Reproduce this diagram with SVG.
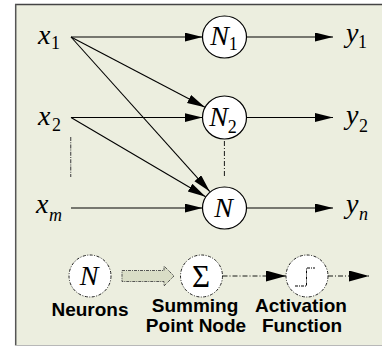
<svg xmlns="http://www.w3.org/2000/svg" width="382" height="347" viewBox="0 0 382 347">
<style>
.var{font-family:"Liberation Serif","Times New Roman",serif;font-style:italic;font-size:28px;fill:#000}
.sub{font-size:18px}
.dig{font-size:18px;font-style:normal}
.node{fill:#fff;stroke:#000;stroke-width:1.2}
.dnode{fill:#fff;stroke:#222;stroke-width:1;stroke-dasharray:3,1.5,1,1.5}
.edge{stroke:#000;stroke-width:1.1;fill:none}
.lbl{font-family:"Liberation Sans",Arial,sans-serif;font-weight:bold;font-size:19px;fill:#000;text-anchor:middle}
</style>
<defs>
<marker id="ah" markerUnits="userSpaceOnUse" markerWidth="20" markerHeight="12" refX="18" refY="4.5" orient="auto">
<path d="M0,0 L18,4.5 L0,9 z" fill="#000"/>
</marker>
<marker id="ah2" markerUnits="userSpaceOnUse" markerWidth="22" markerHeight="12" refX="20" refY="5.5" orient="auto">
<path d="M0,0 L20,5.5 L0,11 z" fill="#000"/>
</marker>
</defs>
<rect x="0" y="0" width="382" height="347" fill="#fff"/>
<rect x="15.5" y="4.5" width="370" height="341" fill="#ECEEDF"/>
<line x1="15" y1="4.5" x2="382" y2="4.5" stroke="#444" stroke-width="1.5"/>
<line x1="15.7" y1="4" x2="15.7" y2="346" stroke="#555" stroke-width="1.5"/>
<line x1="15" y1="345.5" x2="382" y2="345.5" stroke="#b8b8b8" stroke-width="1"/>

<g id="connectors">
<line class="edge" x1="71" y1="37" x2="202.5" y2="37" marker-end="url(#ah)"/>
<line class="edge" x1="71" y1="37" x2="205" y2="107.3" marker-end="url(#ah)"/>
<line class="edge" x1="71" y1="37" x2="209.8" y2="191.6" marker-end="url(#ah)"/>
<line class="edge" x1="71" y1="117.5" x2="202.5" y2="117.5" marker-end="url(#ah)"/>
<line class="edge" x1="71" y1="117.5" x2="205.6" y2="196.8" marker-end="url(#ah)"/>
<line class="edge" x1="71" y1="208" x2="202.5" y2="208" marker-end="url(#ah)"/>
<line class="edge" x1="246.5" y1="37" x2="333" y2="37" marker-end="url(#ah)"/>
<line class="edge" x1="246.5" y1="117.5" x2="333" y2="117.5" marker-end="url(#ah)"/>
<line class="edge" x1="246.5" y1="208" x2="333" y2="208" marker-end="url(#ah)"/>
<line x1="70.7" y1="137" x2="70.7" y2="177" stroke="#555" stroke-width="1.2" stroke-dasharray="4,1.2,1,1.2"/>
<line x1="224.4" y1="141" x2="224.4" y2="177" stroke="#000" stroke-width="0.9" stroke-dasharray="5,2,1,2"/>
<path d="M122,270.5 L164,270.5 L164,266 L174,276 L164,286 L164,281.5 L122,281.5 z" fill="#D9DDC6" stroke="#444" stroke-width="0.9" stroke-dasharray="3,1,1,1"/>
<line x1="222.5" y1="276" x2="286" y2="276" stroke="#000" stroke-width="0.9" stroke-dasharray="5,2,1,2" marker-end="url(#ah2)"/>
<line x1="328" y1="276" x2="369" y2="276" stroke="#000" stroke-width="0.9" stroke-dasharray="5,2,1,2" marker-end="url(#ah2)"/>
</g>

<g id="x1"><text class="var" x="38" y="43.5">x<tspan class="dig" x="51" y="49">1</tspan></text></g>
<g id="x2"><text class="var" x="38" y="125">x<tspan class="dig" x="52" y="131">2</tspan></text></g>
<g id="xm"><text class="var" x="36" y="213">x<tspan class="sub" x="49" y="221">m</tspan></text></g>

<g id="N1"><ellipse class="node" cx="224.5" cy="37" rx="22" ry="21"/><text class="var" x="224" y="45" text-anchor="middle" font-size="27">N<tspan class="dig" dy="5">1</tspan></text></g>
<g id="N2"><ellipse class="node" cx="224.5" cy="117.5" rx="22" ry="21.5"/><text class="var" x="223" y="125.5" text-anchor="middle" font-size="27">N<tspan class="dig" dy="7">2</tspan></text></g>
<g id="N"><ellipse class="node" cx="224.5" cy="208" rx="22" ry="21"/><text class="var" x="223.5" y="217" text-anchor="middle" font-size="27">N</text></g>

<g id="y1"><text class="var" x="346" y="42">y<tspan class="dig" x="358" y="48">1</tspan></text></g>
<g id="y2"><text class="var" x="346" y="124">y<tspan class="dig" x="359" y="132">2</tspan></text></g>
<g id="yn"><text class="var" x="346" y="213">y<tspan class="sub" x="359" y="220">n</tspan></text></g>

<g id="neurons"><circle class="dnode" cx="90" cy="276" r="21"/><text class="var" x="89" y="285" text-anchor="middle" font-size="27">N</text><text class="lbl" x="90" y="316">Neurons</text></g>
<g id="summing"><circle class="dnode" cx="201.5" cy="276" r="21"/><text x="201" y="286.5" text-anchor="middle" font-family="Liberation Serif,serif" font-size="31">Σ</text><text class="lbl" x="195" y="312">Summing</text><text class="lbl" x="196" y="332">Point Node</text></g>
<g id="activation"><circle class="dnode" cx="307" cy="276" r="21"/><polyline points="295,286 306.5,286 306.5,268 315,268" fill="none" stroke="#000" stroke-width="1" stroke-dasharray="3,1,1,1"/><text class="lbl" x="301" y="312">Activation</text><text class="lbl" x="302" y="332">Function</text></g>
</svg>
